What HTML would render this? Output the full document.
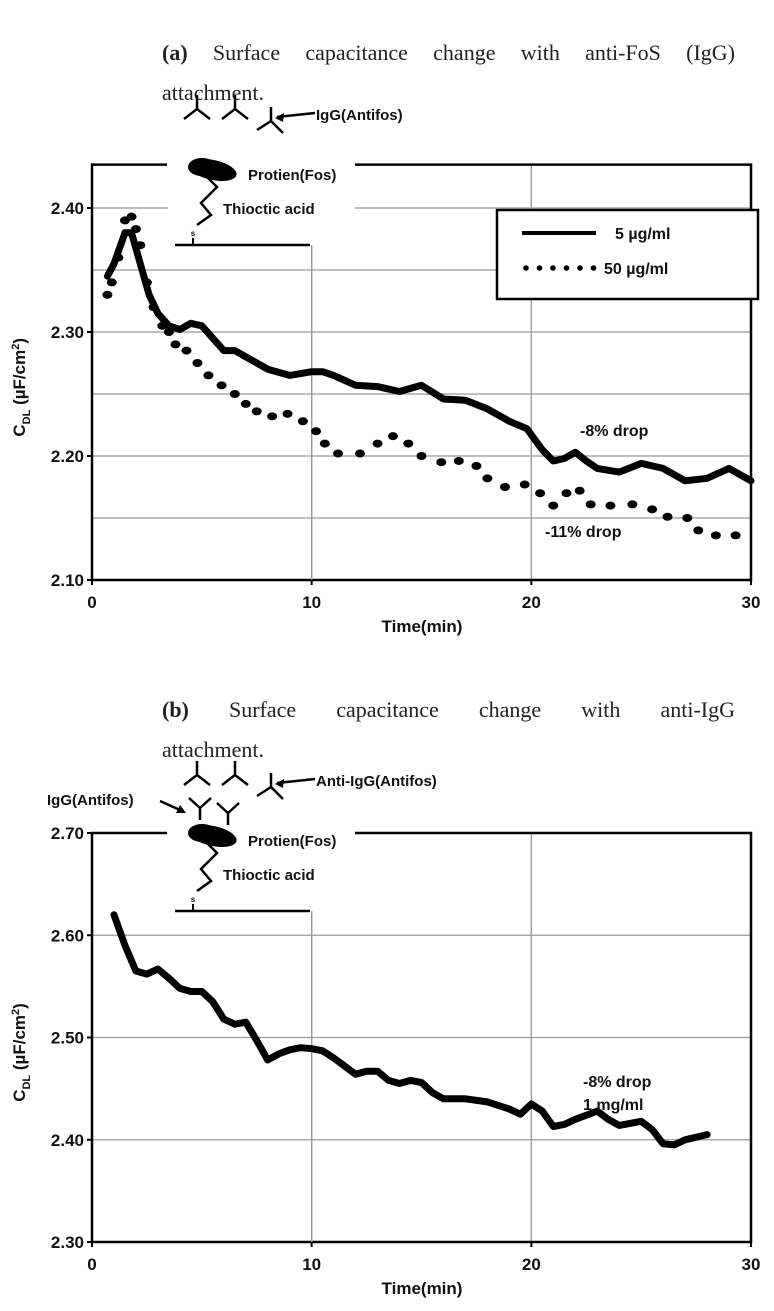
<!DOCTYPE html>
<html><head><meta charset="utf-8">
<style>
html,body{margin:0;padding:0;background:#fff;}
body{width:774px;height:1311px;overflow:hidden;position:relative;}
.cap{position:absolute;left:162px;width:573px;font-family:"Liberation Serif",serif;font-size:22px;color:#222;text-align:justify;text-align-last:justify;line-height:40px;}
svg{position:absolute;left:0;top:0;}
text{font-family:"Liberation Sans",sans-serif;font-weight:bold;fill:#111;}
</style></head>
<body>
<div class="cap" style="top:33px"><b>(a)</b> Surface capacitance change with anti-FoS (IgG)</div>
<div class="cap" style="top:73px;text-align-last:left">attachment.</div>
<div class="cap" style="top:690px"><b>(b)</b> Surface capacitance change with anti-IgG</div>
<div class="cap" style="top:730px;text-align-last:left">attachment.</div>
<svg id="chart" width="774" height="1311"></svg>
<script>
// Chart A data
const tA5 = [0.7,1,1.5,1.8,2.2,2.6,3,3.5,4,4.5,5,5.5,6,6.5,7,8,9,10,10.5,11,12,13,14,15,16,17,18,19,19.8,20.5,21,21.5,22,22.5,23,24,25,26,27,28,29,30];
const vA5 = [2.345,2.355,2.38,2.38,2.355,2.33,2.315,2.305,2.302,2.307,2.305,2.295,2.285,2.285,2.28,2.27,2.265,2.268,2.268,2.265,2.257,2.256,2.252,2.257,2.246,2.245,2.238,2.228,2.222,2.205,2.196,2.198,2.203,2.196,2.19,2.187,2.194,2.19,2.18,2.182,2.19,2.18];
const tA50 = [0.7,0.9,1.2,1.5,1.8,2,2.2,2.5,2.8,3.2,3.5,3.8,4.3,4.8,5.3,5.9,6.5,7,7.5,8.2,8.9,9.6,10.2,10.6,11.2,12.2,13,13.7,14.4,15,15.9,16.7,17.5,18,18.8,19.7,20.4,21,21.6,22.2,22.7,23.6,24.6,25.5,26.2,27.1,27.6,28.4,29.3];
const vA50 = [2.33,2.34,2.36,2.39,2.393,2.383,2.37,2.34,2.32,2.305,2.3,2.29,2.285,2.275,2.265,2.257,2.25,2.242,2.236,2.232,2.234,2.228,2.22,2.21,2.202,2.202,2.21,2.216,2.21,2.2,2.195,2.196,2.192,2.182,2.175,2.177,2.17,2.16,2.17,2.172,2.161,2.16,2.161,2.157,2.151,2.15,2.14,2.136,2.136];
const ticksA = ["2.10","2.20","2.30","2.40"];
// Chart B data
const tB = [1,1.5,2,2.5,3,3.5,4,4.5,5,5.5,6,6.5,7,7.5,8,8.5,9,9.5,10,10.5,11,11.5,12,12.5,13,13.5,14,14.5,15,15.5,16,17,18,19,19.5,20,20.5,21,21.5,22,23,23.5,24,25,25.5,26,26.5,27,28];
const vB = [2.62,2.59,2.565,2.562,2.567,2.558,2.548,2.545,2.545,2.535,2.518,2.513,2.515,2.497,2.478,2.484,2.488,2.49,2.489,2.487,2.48,2.472,2.464,2.467,2.467,2.458,2.455,2.458,2.456,2.446,2.44,2.44,2.437,2.43,2.425,2.435,2.428,2.413,2.415,2.42,2.428,2.42,2.414,2.418,2.41,2.396,2.395,2.4,2.405];
const ticksB = ["2.30","2.40","2.50","2.60","2.70"];
const xTicks = ["0","10","20","30"];

const svg = document.getElementById('chart');
const NS = 'http://www.w3.org/2000/svg';
function mk(tag, attrs, parent){const e=document.createElementNS(NS,tag);for(const k in attrs)e.setAttribute(k,attrs[k]);(parent||svg).appendChild(e);return e;}
const X0=92, X1=751;
const xs = t => X0 + (t/30)*(X1-X0);
const yA = v => 580 - (v-2.10)/0.1*124;
const yB = v => 1242 - (v-2.30)/0.1*102.25;

function axes(yf, ticks, halfStep, topVal, botVal, off){
  for(let v=botVal+halfStep; v<=topVal-0.0001; v+=halfStep){
    const l=mk('line',{x1:X0,x2:X1,y1:yf(v),y2:yf(v),stroke:'#999','stroke-width':1.3});
    
    
  }
  [10,20].forEach(t=>{
    const l=mk('line',{x1:xs(t),x2:xs(t),y1:yf(topVal),y2:yf(botVal),stroke:'#999','stroke-width':1.3});
    
    
  });
  mk('rect',{x:168,y:yf(topVal)-20,width:187,height:245+off-(yf(topVal)-20),fill:'#fff'});
  const fr=mk('path',{d:`M167 ${yf(topVal)} H${X0} V${yf(botVal)} H${X1} V${yf(topVal)} H355`,fill:'none',stroke:'#000','stroke-width':2.5});
  
  
  ticks.forEach(s=>{
    const v=parseFloat(s), y=yf(v);
    mk('line',{x1:X0-5,x2:X0,y1:y,y2:y,stroke:'#000','stroke-width':2});
    const t=mk('text',{x:X0-8,y:y+6,'text-anchor':'end','font-size':17});
    t.textContent=s;
    
    
  });
  xTicks.forEach(s=>{
    const x=xs(parseFloat(s)), y=yf(botVal);
    mk('line',{x1:x,x2:x,y1:y,y2:y+5,stroke:'#000','stroke-width':2});
    const t=mk('text',{x:x,y:y+28,'text-anchor':'middle','font-size':17});
    t.textContent=s;
    
    
  });
  const xt=mk('text',{x:422,y:yf(botVal)+52,'text-anchor':'middle','font-size':17});
  xt.textContent='Time(min)';
  
  
  const cy=(yf(topVal)+yf(botVal))/2+15;
  const yt=mk('text',{transform:`translate(25 ${cy}) rotate(-90)`,'text-anchor':'middle','font-size':17});
  yt.innerHTML='C<tspan font-size="11" dy="5">DL</tspan><tspan dy="-5"> (µF/cm</tspan><tspan font-size="11" dy="-6">2</tspan><tspan dy="6">)</tspan>';
  
  
}

function antibody(x,y,g){
  mk('path',{d:`M${x} ${y} V${y+14} M${x} ${y+14} L${x-13} ${y+24} M${x} ${y+14} L${x+13} ${y+24}`,stroke:'#000','stroke-width':2.5,fill:'none'},g);
}
function antibodyUp(x,y,g){
  mk('path',{d:`M${x} ${y+22} V${y+10} L${x-11} ${y} M${x} ${y+10} L${x+11} ${y}`,stroke:'#000','stroke-width':2.5,fill:'none'},g);
}
function diagram(off,label,isB){
  const g=mk('g',{});
  
  
  antibody(197,95+off,g); antibody(235,95+off,g);
  mk('path',{d:`M271 ${107+off} V${121+off} M271 ${121+off} L257 ${130+off} M271 ${121+off} L283 ${133+off}`,stroke:'#000','stroke-width':2.5,fill:'none'},g);
  mk('line',{x1:277,y1:117+off,x2:315,y2:113+off,stroke:'#000','stroke-width':2.5},g);
  mk('path',{d:`M275 ${118+off} l9 -5 l-1 9z`,fill:'#000'},g);
  const t=mk('text',{x:316,y:120+off,'font-size':15},g); t.textContent=label;
  mk('ellipse',{cx:213,cy:170+off,rx:24,ry:10,fill:'#000',transform:`rotate(12 213 ${170+off})`},g);
  mk('ellipse',{cx:202,cy:167+off,rx:14,ry:9,fill:'#000'},g);
  mk('path',{d:`M208 ${178+off} L217 ${187+off} L201 ${203+off} L211 ${215+off} L197 ${225+off}`,stroke:'#000','stroke-width':2.5,fill:'none'},g);
  const p=mk('text',{x:248,y:180+off,'font-size':15},g); p.textContent='Protien(Fos)';
  const th=mk('text',{x:223,y:214+off,'font-size':15},g); th.textContent='Thioctic acid';
  const s=mk('text',{x:193,y:236+off,'font-size':8,'text-anchor':'middle'},g); s.textContent='s';
  mk('line',{x1:193,y1:238+off,x2:193,y2:245+off,stroke:'#000','stroke-width':2},g);
  mk('line',{x1:175,y1:245+off,x2:310,y2:245+off,stroke:'#000','stroke-width':2.5},g);
  if(isB){
    antibodyUp(200,off+132,g); antibodyUp(228,off+137,g);
    const i=mk('text',{x:47,y:805,'font-size':15},g); i.textContent='IgG(Antifos)';
    mk('line',{x1:160,y1:801,x2:180,y2:810,stroke:'#000','stroke-width':2.5},g);
    mk('path',{d:'M186 813 l-10 0 l4 -8z',fill:'#000'},g);
  }
}

// Chart A
axes(yA, ticksA, 0.05, 2.435, 2.10, 0);
diagram(0,'IgG(Antifos)',false);
mk('line',{x1:xs(10),x2:xs(10),y1:245,y2:yA(2.10),stroke:'#999','stroke-width':1.3});

const lineA=mk('path',{d:tA5.map((t,i)=>(i?'L':'M')+xs(t).toFixed(1)+' '+yA(vA5[i]).toFixed(1)).join(' '),fill:'none',stroke:'#000','stroke-width':7,'stroke-linejoin':'round','stroke-linecap':'round'});


tA50.forEach((t,i)=>{
  const d=mk('ellipse',{cx:xs(t),cy:yA(vA50[i]),rx:5,ry:4,fill:'#000'});
  
  
});
const lg=mk('g',{});


mk('rect',{x:497,y:210,width:261,height:89,fill:'#fff',stroke:'#000','stroke-width':2.5},lg);
mk('line',{x1:522,x2:596,y1:233,y2:233,stroke:'#000','stroke-width':4},lg);
for(let k=0;k<6;k++) mk('circle',{cx:526+k*13.5,cy:268,r:2.8,fill:'#000'},lg);
const l1=mk('text',{x:615,y:239,'font-size':16},lg); l1.textContent='5 µg/ml';
const l2=mk('text',{x:604,y:274,'font-size':16},lg); l2.textContent='50 µg/ml';
const d1=mk('text',{x:580,y:436,'font-size':16}); d1.textContent='-8% drop';
 
const d2=mk('text',{x:545,y:537,'font-size':16}); d2.textContent='-11% drop';
 

// Chart B
axes(yB, ticksB, 0.1, 2.70, 2.30, 666);
diagram(666,'Anti-IgG(Antifos)',true);
mk('line',{x1:xs(10),x2:xs(10),y1:911,y2:yB(2.30),stroke:'#999','stroke-width':1.3});
const lineB=mk('path',{d:tB.map((t,i)=>(i?'L':'M')+xs(t).toFixed(1)+' '+yB(vB[i]).toFixed(1)).join(' '),fill:'none',stroke:'#000','stroke-width':7,'stroke-linejoin':'round','stroke-linecap':'round'});


const b1=mk('text',{x:583,y:1087,'font-size':16}); b1.textContent='-8% drop';
 
const b2=mk('text',{x:583,y:1110,'font-size':16}); b2.textContent='1 mg/ml';
 
</script>
</body></html>
